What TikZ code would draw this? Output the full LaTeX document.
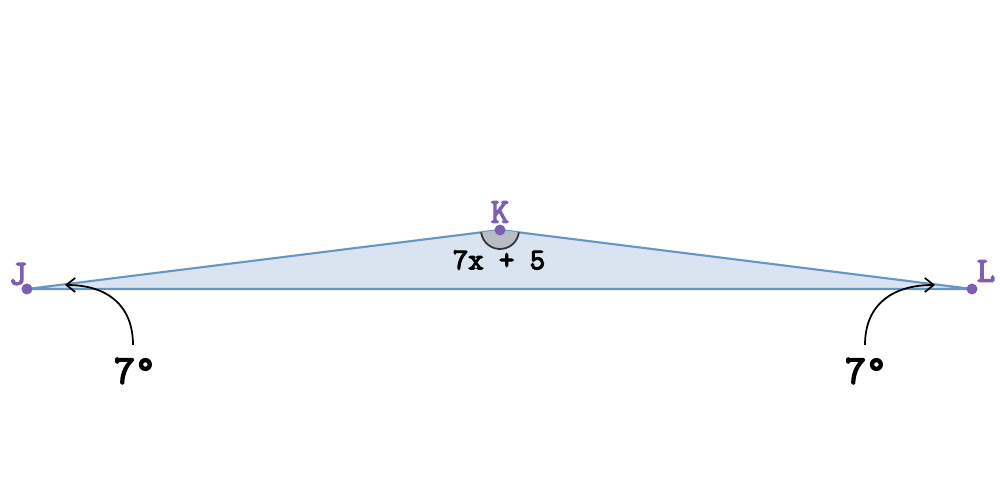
\documentclass[tikz,border=0pt]{standalone}
\usepackage{fontspec}
\newfontfamily\markfont[FakeBold = 4]{Latin Modern Mono}
\usetikzlibrary{positioning,arrows.meta}
\definecolor{sidecolor}{RGB}{101,150,202}
\definecolor{facecolor}{RGB}{217,228,240}
\definecolor{pointcolor}{RGB}{126,94,176}
\definecolor{arccolor}{RGB}{183,188,197}
\tikzset{
  vertex/.style = {circle, fill = pointcolor, inner sep = 0pt, minimum size = 0.22cm},
  vertexname/.style = {text = pointcolor, font = \markfont\fontsize{20}{22}\selectfont},
  measure/.style = {font = \markfont\fontsize{23}{25}\selectfont},
  pointer/.style = {-{Straight Barb[length = 5pt, width = 8pt]}, line width = 1pt, looseness = 1.15},
}
\begin{document}
\begin{tikzpicture}[x = 0.02cm, y = 0.02cm]
\useasboundingbox (0,0) rectangle (1000,500);
\coordinate (J) at (27,211);
\coordinate (K) at (500,270);
\coordinate (L) at (972,211);
\pgfmathsetmacro\half{atan(59/472)};
\draw [fill = facecolor, draw = sidecolor, line width = 1.2pt] (J) -- (K) -- (L) -- cycle;
\fill [arccolor] (K) -- ++(180+\half:0.38cm) arc [start angle = 180+\half, end angle = 360-\half, radius = 0.38cm] -- cycle;
\draw [black!80, line width = 1pt] (K) ++(180+\half:0.38cm) arc [start angle = 180+\half, end angle = 360-\half, radius = 0.38cm];
\foreach \p in {J,K,L} \node [vertex] (\p dot) at (\p) {};
\node [vertexname] (Jname) at (18,226) {J};
\node [vertexname] (Kname) at (500,288) {K};
\node [vertexname] (Lname) at (986,229) {L};
\node [font = \markfont\fontsize{17}{19}\selectfont] (angleK) at (499,240) {7x + 5};
\node [measure] (angleJ) at (135,129) {7°};
\node [measure] (angleL) at (866,129) {7°};
\coordinate (Jtip) at (65,215);
\coordinate (Ltip) at (935,215);
\draw [pointer] ([yshift = 0.14cm]angleJ.north -| 133,0) to [out = 90, in = 0] (Jtip);
\draw [pointer] ([yshift = 0.14cm]angleL.north -| 865,0) to [out = 90, in = 180] (Ltip);
\end{tikzpicture}
\end{document}
